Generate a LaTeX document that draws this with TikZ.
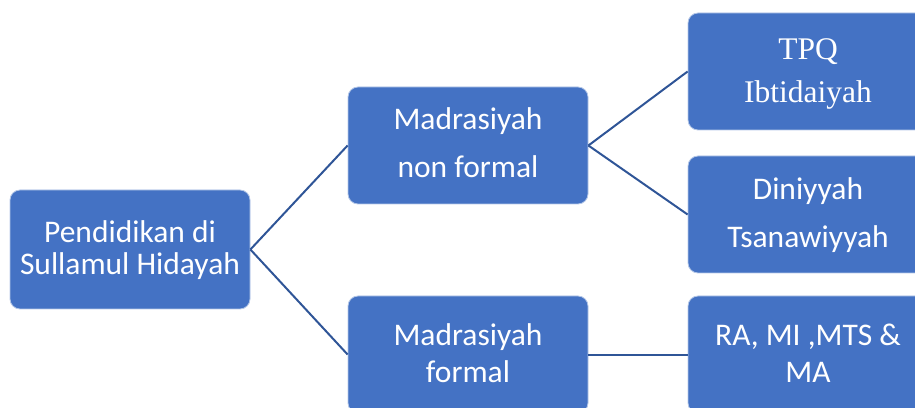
\documentclass[tikz,border=0pt]{standalone}
\usepackage{fontspec}
\setmainfont{Carlito}
\newfontfamily\tpqfont{Liberation Serif}
\definecolor{boxblue}{HTML}{4472C4}
\definecolor{lineblue}{HTML}{2F5597}
\definecolor{boxedge}{HTML}{B4C7E7}
\begin{document}
\begin{tikzpicture}[x=1pt,y=1pt,
  box/.style={rectangle, rounded corners=10pt, fill=boxblue, draw=boxedge, line width=0.8pt,
              minimum width=240pt, minimum height=117pt, inner sep=0pt},
  txt/.style={text=white, font=\fontsize{31.5}{36}\selectfont, inner sep=0pt, anchor=base},
  serif/.style={font=\tpqfont\fontsize{31.5}{36}\selectfont},
  conn/.style={draw=lineblue, line width=2pt}]
\useasboundingbox (0,0) rectangle (915,407);
\node[box, minimum height=119pt] (root) at (130,157.5) {};
\node[box] (nf) at (468,261.5) {};
\node[box] (f) at (468,52.5) {};
\node[box] (tpq) at (808,335.5) {};
\node[box] (din) at (808,192.5) {};
\node[box] (ra) at (808,52.5) {};
\draw[conn] (root.east) -- (nf.west);
\draw[conn] (root.east) -- (f.west);
\draw[conn] (nf.east) -- (tpq.west);
\draw[conn] (nf.east) -- (din.west);
\draw[conn] (f.east) -- (ra.west);
\node[txt] (root1) at (130,164) {Pendidikan di};
\node[txt] (root2) at (130,132) {Sullamul Hidayah};
\node[txt] (nf1) at (468,277) {Madrasiyah};
\node[txt] (nf2) at (468,229) {non formal};
\node[txt] (f1) at (468,62) {Madrasiyah};
\node[txt] (f2) at (468,25) {formal};
\node[txt, serif] (tpq1) at (808,347) {TPQ};
\node[txt, serif] (tpq2) at (808,304) {Ibtidaiyah};
\node[txt] (din1) at (808,207) {Diniyyah};
\node[txt] (din2) at (808,159) {Tsanawiyyah};
\node[txt] (ra1) at (808,62) {RA, MI ,MTS \&};
\node[txt] (ra2) at (808,25) {MA};
\end{tikzpicture}
\end{document}
